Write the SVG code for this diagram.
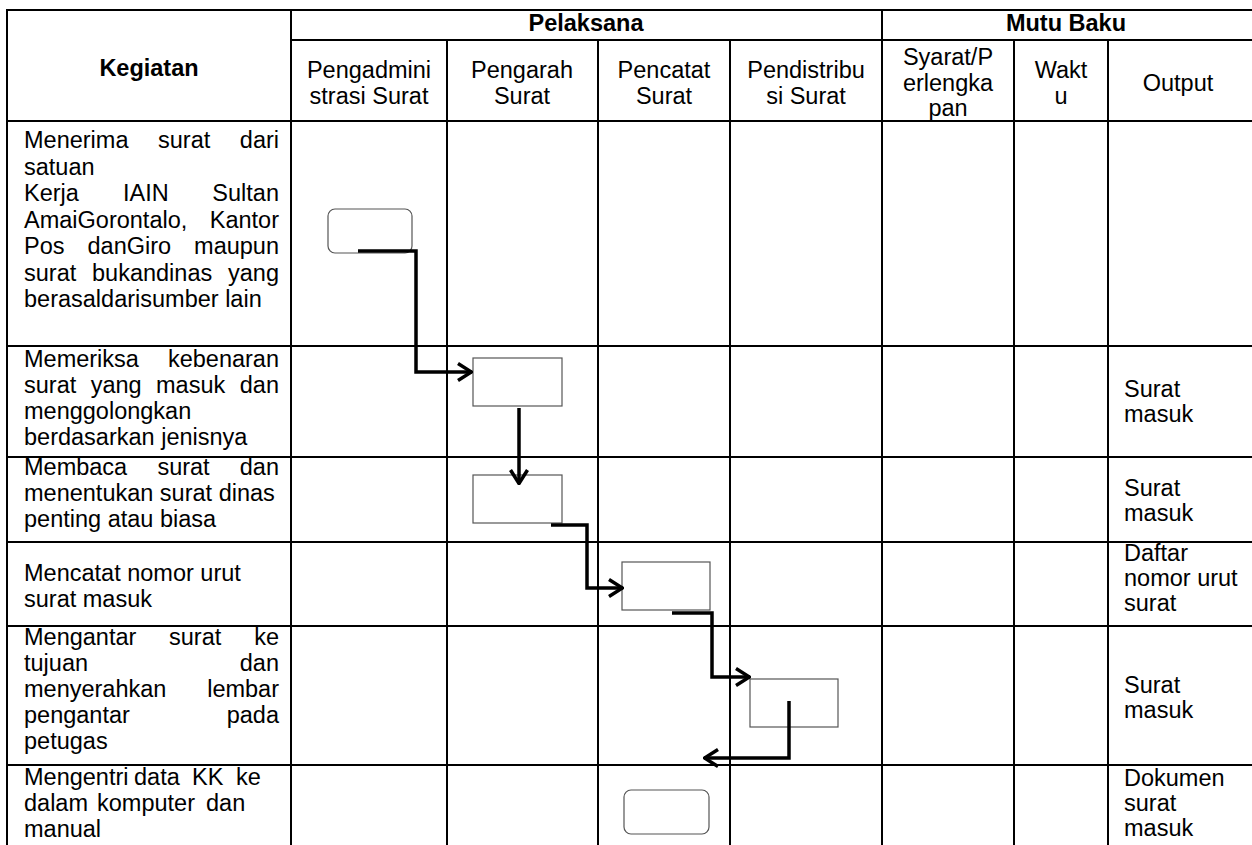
<svg xmlns="http://www.w3.org/2000/svg" width="1252" height="845" viewBox="0 0 1252 845">
<style>
text{font-family:"Liberation Sans",Arial,sans-serif;font-size:23.5px;fill:#000}
.b{font-weight:bold}
.c{text-anchor:middle}
.e{text-anchor:end}
.grid line{stroke:#000;stroke-width:2}
.box{fill:#fff;stroke:#555;stroke-width:1.2}
.con{fill:none;stroke:#000;stroke-width:3.5}
</style>
<defs>
<marker id="arr" viewBox="0 0 16 20" refX="15" refY="10" markerWidth="16" markerHeight="20" markerUnits="userSpaceOnUse" orient="auto">
<path d="M1,1.5 L14.5,10 L1,18.5" fill="none" stroke="#000" stroke-width="3.5"/>
</marker>
</defs>
<rect width="1252" height="845" fill="#fff"/>
<g class="grid">
<line x1="6" y1="10" x2="1252" y2="10"/>
<line x1="291" y1="40" x2="1252" y2="40"/>
<line x1="6" y1="121" x2="1252" y2="121"/>
<line x1="6" y1="346" x2="1252" y2="346"/>
<line x1="6" y1="457" x2="1252" y2="457"/>
<line x1="6" y1="542" x2="1252" y2="542"/>
<line x1="6" y1="626" x2="1252" y2="626"/>
<line x1="6" y1="765" x2="1252" y2="765"/>
<line x1="7" y1="9" x2="7" y2="845"/>
<line x1="291" y1="9" x2="291" y2="845"/>
<line x1="447" y1="40" x2="447" y2="845"/>
<line x1="598" y1="40" x2="598" y2="845"/>
<line x1="730" y1="40" x2="730" y2="845"/>
<line x1="882" y1="9" x2="882" y2="845"/>
<line x1="1014" y1="40" x2="1014" y2="845"/>
<line x1="1108" y1="40" x2="1108" y2="845"/>
</g>
<g id="header">
<text class="b c" x="149" y="76">Kegiatan</text>
<text class="b c" x="586" y="31">Pelaksana</text>
<text class="b c" x="1066" y="31">Mutu Baku</text>
<text class="c" x="369" y="78">Pengadmini</text>
<text class="c" x="369" y="104">strasi Surat</text>
<text class="c" x="522" y="78">Pengarah</text>
<text class="c" x="522" y="104">Surat</text>
<text class="c" x="664" y="78">Pencatat</text>
<text class="c" x="664" y="104">Surat</text>
<text class="c" x="806" y="78">Pendistribu</text>
<text class="c" x="806" y="104">si Surat</text>
<text class="c" x="948" y="65">Syarat/P</text>
<text class="c" x="948" y="91">erlengka</text>
<text class="c" x="948" y="116">pan</text>
<text class="c" x="1061" y="78">Wakt</text>
<text class="c" x="1061" y="104">u</text>
<text class="c" x="1178" y="91">Output</text>
</g>
<g id="kegiatan">
<text x="24" y="148">Menerima</text><text x="158" y="148">surat</text><text class="e" x="279" y="148">dari</text>
<text x="24" y="174.5">satuan</text>
<text x="24" y="201">Kerja</text><text x="123" y="201">IAIN</text><text class="e" x="279" y="201">Sultan</text>
<text x="24" y="227.5">AmaiGorontalo,</text><text class="e" x="279" y="227.5">Kantor</text>
<text x="24" y="254">Pos</text><text x="87.5" y="254">danGiro</text><text class="e" x="279" y="254">maupun</text>
<text x="24" y="280.5">surat</text><text x="92" y="280.5">bukandinas</text><text class="e" x="279" y="280.5">yang</text>
<text x="24" y="307">berasaldarisumber lain</text>
<text x="24" y="367">Memeriksa</text><text class="e" x="279" y="367">kebenaran</text>
<text x="24" y="393">surat</text><text x="90.7" y="393">yang</text><text x="156" y="393">masuk</text><text class="e" x="279" y="393">dan</text>
<text x="24" y="419">menggolongkan</text>
<text x="24" y="445">berdasarkan jenisnya</text>
<text x="24" y="475">Membaca</text><text x="157.4" y="475">surat</text><text class="e" x="279" y="475">dan</text>
<text x="24" y="501">menentukan surat dinas</text>
<text x="24" y="527">penting atau biasa</text>
<text x="24" y="581">Mencatat nomor urut</text>
<text x="24" y="607">surat masuk</text>
<text x="24" y="645">Mengantar</text><text x="169" y="645">surat</text><text class="e" x="279" y="645">ke</text>
<text x="24" y="671">tujuan</text><text class="e" x="279" y="671">dan</text>
<text x="24" y="697">menyerahkan</text><text class="e" x="279" y="697">lembar</text>
<text x="24" y="723">pengantar</text><text class="e" x="279" y="723">pada</text>
<text x="24" y="749">petugas</text>
<text x="24" y="785">Mengentri</text><text x="134" y="785">data</text><text x="192" y="785">KK</text><text x="236" y="785">ke</text>
<text x="24" y="811">dalam</text><text x="97" y="811">komputer</text><text x="206" y="811">dan</text>
<text x="24" y="837">manual</text>
</g>
<g id="output">
<text x="1124" y="397">Surat</text>
<text x="1124" y="422">masuk</text>
<text x="1124" y="496">Surat</text>
<text x="1124" y="521">masuk</text>
<text x="1124" y="561">Daftar</text>
<text x="1124" y="586">nomor urut</text>
<text x="1124" y="611">surat</text>
<text x="1124" y="693">Surat</text>
<text x="1124" y="718">masuk</text>
<text x="1124" y="786">Dokumen</text>
<text x="1124" y="811">surat</text>
<text x="1124" y="836">masuk</text>
</g>
<g id="n1"><rect class="box" x="328" y="209" width="84" height="44" rx="7"/></g>
<g id="n2"><rect class="box" x="473" y="358" width="89" height="48"/></g>
<g id="n3"><rect class="box" x="473" y="475" width="89" height="48"/></g>
<g id="n4"><rect class="box" x="622" y="562" width="88" height="48"/></g>
<g id="n5"><rect class="box" x="750" y="679" width="88" height="48"/></g>
<g id="n6"><rect class="box" x="624" y="790" width="85" height="44" rx="7"/></g>
<g id="connectors">
<path class="con" d="M358,251 H416 V372 H472" marker-end="url(#arr)"/>
<path class="con" d="M519,408 V484" marker-end="url(#arr)"/>
<path class="con" d="M551,525 H587 V588 H623" marker-end="url(#arr)"/>
<path class="con" d="M672,613 H712 V677 H750" marker-end="url(#arr)"/>
<path class="con" d="M789,701 V758 H704" marker-end="url(#arr)"/>
</g>
</svg>
